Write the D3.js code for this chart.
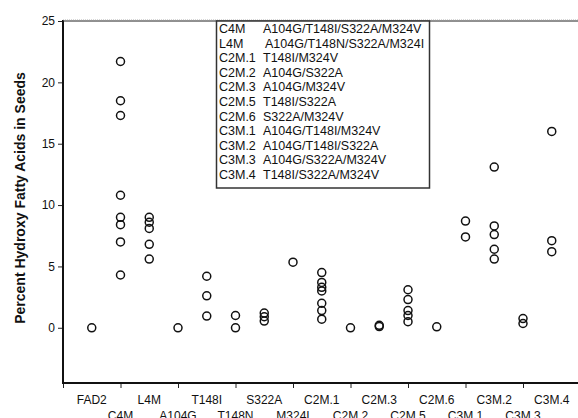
<!DOCTYPE html>
<html>
<head>
<meta charset="utf-8">
<script src="https://cdn.jsdelivr.net/npm/d3@7"></script>
<style>
  body { margin: 0; background: #fff; }
  text { font-family: "Liberation Sans", Arial, sans-serif; fill: #111; }
</style>
</head>
<body>
<div id="chart"></div>
<script>
// categories along the x axis
const categories = ["FAD2", "C4M", "L4M", "A104G", "T148I", "T148N", "S322A", "M324I",
  "C2M.1", "C2M.2", "C2M.3", "C2M.5", "C2M.6", "C3M.1", "C3M.2", "C3M.3", "C3M.4"];

// percent hydroxy fatty acids, one list per line
const values = [
  [0],
  [21.7, 18.5, 17.3, 10.8, 9.0, 8.4, 7.0, 4.3],
  [9.0, 8.6, 8.1, 6.8, 5.6],
  [0],
  [4.2, 2.6, 0.95],
  [1.0, 0.0],
  [1.2, 0.9, 0.55],
  [5.35],
  [4.5, 3.7, 3.3, 3.0, 2.0, 1.4, 0.7],
  [0],
  [0.2, 0.1],
  [3.1, 2.3, 1.4, 1.0, 0.5],
  [0.08],
  [8.7, 7.4],
  [13.1, 8.3, 7.6, 6.4, 5.6],
  [0.75, 0.35],
  [16.0, 7.1, 6.2]
];

const yTicks = [0, 5, 10, 15, 20, 25];

// legend rows: line name, mutations
const legendNames = ["C4M", "L4M", "C2M.1", "C2M.2", "C2M.3", "C2M.5", "C2M.6",
  "C3M.1", "C3M.2", "C3M.3", "C3M.4"];
const legendMuts = ["A104G/T148I/S322A/M324V", "A104G/T148N/S322A/M324I", "T148I/M324V",
  "A104G/S322A", "A104G/M324V", "T148I/S322A", "S322A/M324V", "A104G/T148I/M324V",
  "A104G/T148I/S322A", "A104G/S322A/M324V", "T148I/S322A/M324V"];

const W = 578, H = 418;
const svg = d3.select("#chart").append("svg").attr("width", W).attr("height", H);

const x = d3.scaleLinear().domain([0, 18]).range([63, 580.5]);
const y = d3.scaleLinear().domain([-4.5, 25]).range([383, 21]);

// y axis
const yAxis = svg.append("g").attr("transform", "translate(63,0)")
  .call(d3.axisLeft(y).tickValues(yTicks).tickSize(5).tickPadding(3));
yAxis.select(".domain").remove();
yAxis.selectAll("text").style("font-size", "12px").attr("fill", "#111");
yAxis.selectAll("line").attr("stroke", "#222");

// x axis ticks every second category
const xAxis = svg.append("g").attr("transform", "translate(0,383)")
  .call(d3.axisBottom(x).tickValues(d3.range(0, 18, 2)).tickSize(5).tickFormat(""));
xAxis.select(".domain").remove();
xAxis.selectAll("line").attr("stroke", "#222");

// frame lines
svg.append("line").attr("x1", 63).attr("x2", 63).attr("y1", 20).attr("y2", 384)
  .attr("stroke", "#111").attr("stroke-width", 2);
svg.append("line").attr("x1", 62).attr("x2", W).attr("y1", 383).attr("y2", 383)
  .attr("stroke", "#111").attr("stroke-width", 2);
svg.append("line").attr("x1", 63).attr("x2", W).attr("y1", 21).attr("y2", 21)
  .attr("stroke", "#222").attr("stroke-width", 1.2);
svg.append("line").attr("x1", 63).attr("x2", W).attr("y1", 20).attr("y2", 20)
  .attr("stroke", "#999").attr("stroke-width", 0.8).attr("stroke-dasharray", "1,1");

// category labels in two staggered rows (second row runs off the bottom, as in the original)
svg.append("g").selectAll("text").data(categories).join("text")
  .attr("x", (d, i) => x(i + 1))
  .attr("y", (d, i) => i % 2 === 0 ? 404 : 420)
  .attr("text-anchor", "middle")
  .style("font-size", "12px")
  .text(d => d);

// y axis title
svg.append("text")
  .attr("transform", "translate(20,198) rotate(-90)")
  .attr("text-anchor", "middle")
  .attr("dominant-baseline", "central")
  .style("font-size", "14px").style("font-weight", "bold")
  .text("Percent Hydroxy Fatty Acids in Seeds");

// points
const pts = values.flatMap((vs, i) => vs.map(v => ({ i: i + 1, v })));
svg.append("g").selectAll("circle").data(pts).join("circle")
  .attr("cx", d => x(d.i))
  .attr("cy", d => y(d.v))
  .attr("r", 4)
  .attr("fill", "none")
  .attr("stroke", "#111")
  .attr("stroke-width", 1.5);

// legend box
const lg = svg.append("g");
lg.append("rect").attr("x", 216.5).attr("y", 21).attr("width", 213).attr("height", 167)
  .attr("fill", "#fff").attr("stroke", "#333").attr("stroke-width", 1.5);
const rows = lg.selectAll("g.row").data(legendNames).join("g").attr("class", "row")
  .attr("transform", (d, i) => `translate(0,${29 + i * 14.6})`);
rows.append("text").attr("x", 219).attr("dominant-baseline", "central")
  .style("font-size", "12.5px").text(d => d);
rows.append("text").attr("x", (d, i) => i === 1 ? 265 : 263).attr("dominant-baseline", "central")
  .style("font-size", "12.5px").text((d, i) => legendMuts[i]);
</script>
</body>
</html>
